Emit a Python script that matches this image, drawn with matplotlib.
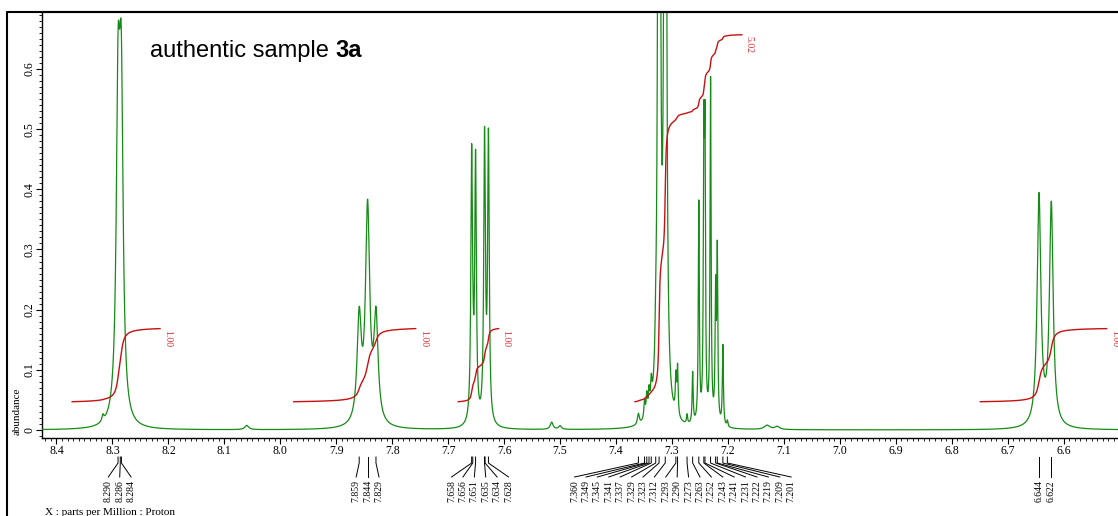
import numpy as np
import matplotlib
matplotlib.use("Agg")
import matplotlib.pyplot as plt
from matplotlib.lines import Line2D
from matplotlib.ticker import MultipleLocator, FuncFormatter
from matplotlib.transforms import blended_transform_factory

plt.rcParams['font.family'] = ['Liberation Serif', 'DejaVu Serif']

# ---- peak-picked lines (ppm), Lorentzian amplitudes and half-widths (ppm) ----
line_ppm = [8.290, 8.286, 8.284,
            7.859, 7.844, 7.829,
            7.658, 7.656, 7.651, 7.635, 7.634, 7.628,
            7.360, 7.349, 7.345, 7.341, 7.337, 7.329, 7.323, 7.312,
            7.293, 7.290, 7.273, 7.263, 7.252, 7.243, 7.241, 7.231,
            7.222, 7.219, 7.209, 7.201,
            6.644, 6.622]
line_height = [0.49, 0.10, 0.44,
               0.172, 0.355, 0.172,
               0.43, 0.04, 0.43, 0.44, 0.04, 0.47,
               0.018, 0.03, 0.035, 0.035, 0.04, 0.04, 3.6, 3.6,
               0.06, 0.08, 0.015, 0.085, 0.365, 0.43, 0.43, 0.57,
               0.21, 0.28, 0.133, 0.01,
               0.383, 0.368]
line_hwhm = [0.0038, 0.0038, 0.0038,
             0.0045, 0.0045, 0.0045,
             0.0017, 0.0017, 0.0017, 0.0017, 0.0017, 0.0017,
             0.002, 0.0014, 0.0014, 0.0014, 0.0014, 0.0014, 0.0014, 0.0014,
             0.0012, 0.0012, 0.0011, 0.0011, 0.0011, 0.0011, 0.0011, 0.0011,
             0.0011, 0.0011, 0.0011, 0.0011,
             0.004, 0.004]

# weak signals that were not peak-picked
minor_ppm = [8.317, 8.060, 7.515, 7.500, 7.130, 7.112]
minor_height = [0.010, 0.007, 0.012, 0.006, 0.007, 0.005]
minor_hwhm = [0.002, 0.004, 0.003, 0.003, 0.006, 0.005]

# ---- integrals: ranges (ppm) and normalised values ----
integral_start = [8.372, 7.976, 7.682, 7.366, 6.749]
integral_end = [8.215, 7.758, 7.610, 7.175, 6.523]
integral_value = [1.00, 1.00, 1.00, 5.02, 1.00]

W, H = 1118, 516
fig = plt.figure(figsize=(W / 100, H / 100), dpi=100)
ax_left, ax_bottom, ax_right, ax_top = 42, 438, 1118, 12
ax = fig.add_axes([ax_left / W, 1 - ax_bottom / H,
                   (ax_right - ax_left) / W, (ax_bottom - ax_top) / H])

XLIM = (8.4259, 6.5028)
YLIM = (-0.0133, 0.6947)
px_per_ppm = (ax_right - ax_left) / (XLIM[0] - XLIM[1])
px_per_unit = (ax_bottom - ax_top) / (YLIM[1] - YLIM[0])


def fy(ypx):
    return 1 - ypx / H


# ---- spectrum as a sum of Lorentzian lines ----
x = np.linspace(8.45, 6.48, 60000)
spec = np.zeros_like(x)
for p, h, g in zip(line_ppm + minor_ppm, line_height + minor_height,
                   line_hwhm + minor_hwhm):
    spec += h * g ** 2 / (g ** 2 + (x - p) ** 2)

ax.plot(x, spec, color='#158c15', lw=0.9, zorder=3)
ax.set_xlim(*XLIM)
ax.set_ylim(*YLIM)

# ---- integral curves ----
base = 0.047
unit = 0.1215
for s, e, val in zip(integral_start, integral_end, integral_value):
    m = (x <= s) & (x >= e)
    cum = np.cumsum(spec[m])
    cum = cum / cum[-1]
    ax.plot(x[m], base + cum * val * unit, color='#c81010', lw=1.0, zorder=4)
    ax.text(e - 3 / px_per_ppm, base + val * unit - 1 / px_per_unit,
            f'{val:.2f}', rotation=-90, ha='left', va='top',
            color='#d8303a', fontsize=7, zorder=5)

# ---- axes styling ----
ax.spines['right'].set_visible(False)
ax.spines['top'].set_linewidth(1.5)
ax.spines['left'].set_linewidth(1.0)
ax.spines['bottom'].set_linewidth(1.0)

ax.xaxis.set_major_locator(MultipleLocator(0.1))
ax.xaxis.set_minor_locator(MultipleLocator(0.01))
ax.xaxis.set_major_formatter(FuncFormatter(lambda v, _: f'{v:.1f}'))
ax.yaxis.set_major_locator(MultipleLocator(0.1))
ax.yaxis.set_minor_locator(MultipleLocator(0.01))
ax.yaxis.set_major_formatter(FuncFormatter(lambda v, _: '0' if abs(v) < 1e-9 else f'{v:.1f}'))
ax.tick_params(axis='both', which='major', direction='out', length=4.5,
               width=0.8, labelsize=8.5)
ax.tick_params(axis='both', which='minor', direction='out', length=2.2, width=0.6)
ax.tick_params(axis='x', which='major', pad=0.8)
ax.tick_params(axis='y', which='major', pad=0.3, labelrotation=90)
ax.tick_params(top=False, right=False, which='both')
for lab in ax.get_yticklabels():
    lab.set_va('center')

# outer frame
fig.add_artist(Line2D([7 / W, 7 / W, 1], [0, fy(12), fy(12)],
                      transform=fig.transFigure, color='black', lw=1.5))

# ---- peak labels with fanned leader lines ----
btf = blended_transform_factory(ax.transData, fig.transFigure)
min_sep = 11.4 / px_per_ppm
ppm_sorted = sorted(line_ppm, reverse=True)
groups, cur = [], [ppm_sorted[0]]
for p in ppm_sorted[1:]:
    if cur[-1] - p > 0.03:
        groups.append(cur)
        cur = [p]
    else:
        cur.append(p)
groups.append(cur)

for grp in groups:
    n = len(grp)
    gaps = [grp[i] - grp[i + 1] for i in range(n - 1)]
    if n > 1 and min(gaps) < min_sep:
        centre = (grp[0] + grp[-1]) / 2
        pos = [centre + ((n - 1) / 2 - i) * min_sep for i in range(n)]
    else:
        pos = list(grp)
    for p, lx in zip(grp, pos):
        ax.plot([p, p, lx], [fy(457), fy(463), fy(477)], transform=btf,
                clip_on=False, color='black', lw=0.7)
        ax.text(lx, fy(480), f'{p:.3f}', transform=btf, rotation=90,
                ha='center', va='top', fontsize=7)

# ---- axis captions and sample title ----
fig.text(17 / W, fy(411), 'abundance', rotation=90, ha='center', va='center',
         fontsize=8)
fig.text(45 / W, fy(515), 'X : parts per Million : Proton', ha='left',
         va='baseline', fontsize=8)

title_size = 17
t1 = fig.text(150 / W, fy(57), 'authentic sample', ha='left', va='baseline',
              fontsize=title_size, family='Liberation Sans')
fig.canvas.draw()
bb = t1.get_window_extent(renderer=fig.canvas.get_renderer())
gap = 0.278 * title_size * 100 / 72
fig.text((bb.x1 + gap) / W, fy(57), '3a', ha='left', va='baseline',
         fontsize=title_size, family='Liberation Sans', weight='bold')

fig.savefig('out.png', dpi=100)
